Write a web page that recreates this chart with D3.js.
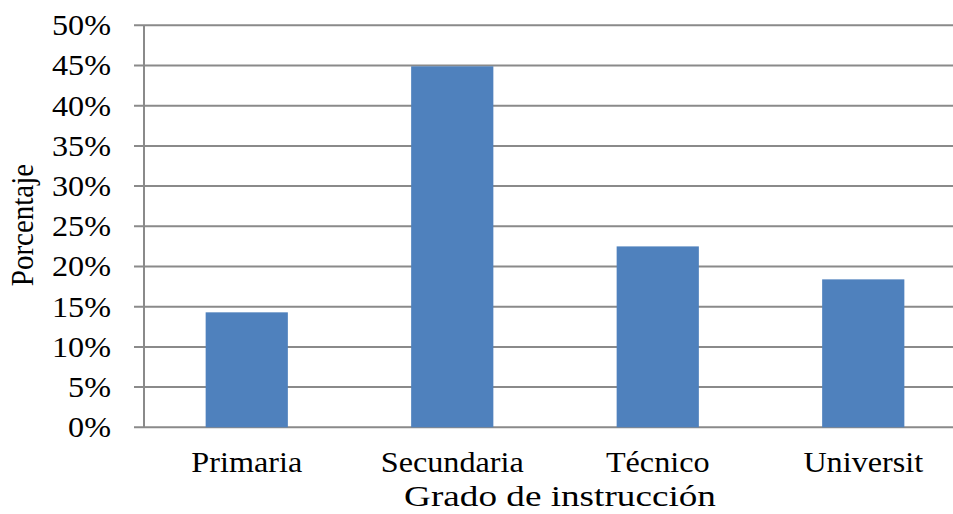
<!DOCTYPE html>
<html>
<head>
<meta charset="utf-8">
<script src="https://cdn.jsdelivr.net/npm/d3@7"></script>
<style>
  html, body { margin: 0; padding: 0; background: #fff; }
  svg { display: block; }
  text { font-family: "Liberation Serif", "Times New Roman", serif; fill: #000; }
</style>
</head>
<body>
<svg id="chart" width="953" height="514"></svg>
<script>
const categories = ["Primaria", "Secundaria", "Técnico", "Universit"];
const values = [0.143, 0.449, 0.225, 0.184];
const yTicks = [0, 0.05, 0.10, 0.15, 0.20, 0.25, 0.30, 0.35, 0.40, 0.45, 0.50];
const yTitle = "Porcentaje";
const xTitle = "Grado de instrucción";

(function () {
const svg = d3.select("#chart");
const mLeft = 144, mRight = 966, mTop = 25.3, mBottom = 427.3;
const gridColor = "#8a8a8a";
const stretch = 1.11;

const x = d3.scaleBand().domain(categories).range([mLeft, mRight]).paddingInner(0.6).paddingOuter(0.3);
const y = d3.scaleLinear().domain([0, 0.5]).range([mBottom, mTop]);

// gridlines
svg.append("g").selectAll("line").data(yTicks).join("line")
  .attr("x1", mLeft - 10).attr("x2", mRight)
  .attr("y1", d => y(d)).attr("y2", d => y(d))
  .attr("stroke", gridColor).attr("stroke-width", 2);

// axis line
svg.append("line").attr("x1", mLeft).attr("x2", mLeft)
  .attr("y1", y(0.5)).attr("y2", y(0))
  .attr("stroke", gridColor).attr("stroke-width", 2);

// bars
svg.append("g").selectAll("rect").data(categories).join("rect")
  .attr("x", d => x(d)).attr("width", x.bandwidth())
  .attr("y", (d, i) => y(values[i]))
  .attr("height", (d, i) => y(0) - y(values[i]))
  .attr("fill", "#4F81BD");

// y tick labels
const fmt = d3.format(".0%");
svg.append("g").selectAll("text").data(yTicks).join("text")
  .attr("transform", d => `translate(111,${y(d)}) scale(${stretch},1)`)
  .attr("text-anchor", "end").attr("dy", "0.34em")
  .attr("font-size", 29)
  .text(d => fmt(d));

// x category labels
svg.append("g").selectAll("text").data(categories).join("text")
  .attr("transform", d => `translate(${x(d) + x.bandwidth() / 2},472) scale(${stretch},1)`)
  .attr("text-anchor", "middle")
  .attr("font-size", 29)
  .text(d => d);

// x title
svg.append("text")
  .attr("transform", `translate(560,506) scale(1.24,1)`)
  .attr("text-anchor", "middle")
  .attr("font-size", 30)
  .text(xTitle);

// y title
svg.append("text")
  .attr("transform", `translate(33,225) rotate(-90) scale(1,1.1)`)
  .attr("text-anchor", "middle")
  .attr("font-size", 29)
  .text(yTitle);
})();
</script>
</body>
</html>
